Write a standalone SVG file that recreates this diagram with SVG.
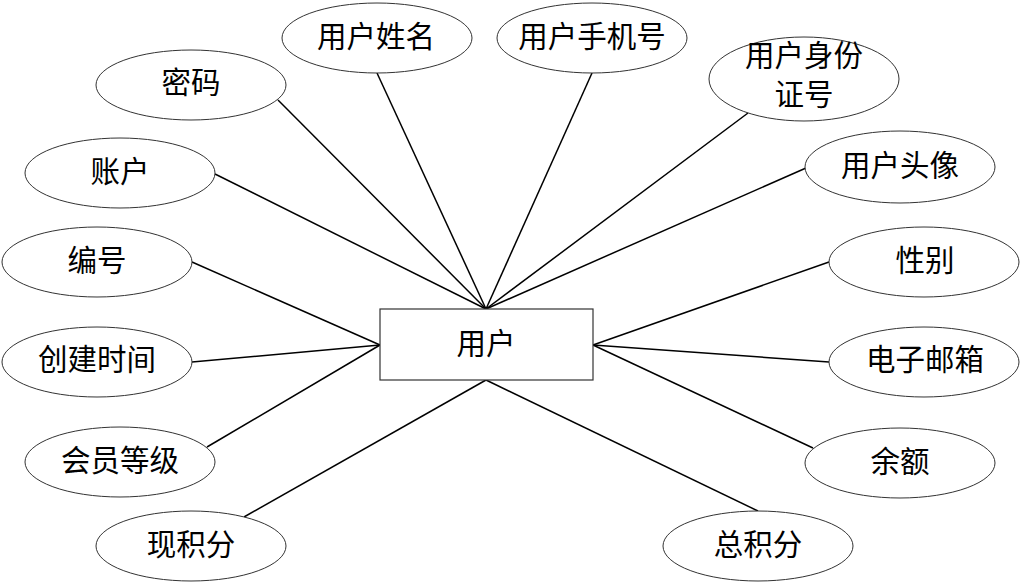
<svg xmlns="http://www.w3.org/2000/svg" width="1020" height="584" viewBox="0 0 1020 584">
<style>
.e{fill:#fff;stroke:#333;stroke-width:1}
.r{fill:#fff;stroke:#333;stroke-width:1.2}
.t{font-family:"Liberation Serif","Noto Sans CJK SC",serif;font-size:29.5px;fill:#000;text-anchor:middle;dominant-baseline:central}
.c line{stroke:#000;stroke-width:1.5}
</style>
<rect width="1020" height="584" fill="#fff"/>
<g class="c" id="connectors">
<line x1="377" y1="73" x2="486" y2="309"/>
<line x1="278" y1="100" x2="486" y2="309"/>
<line x1="215" y1="174" x2="486" y2="309"/>
<line x1="592" y1="73" x2="486" y2="309"/>
<line x1="748" y1="113" x2="486" y2="309"/>
<line x1="806" y1="168" x2="486" y2="309"/>
<line x1="192" y1="262" x2="380" y2="345"/>
<line x1="192" y1="362" x2="380" y2="345"/>
<line x1="207" y1="447" x2="380" y2="345"/>
<line x1="829" y1="262" x2="593" y2="345"/>
<line x1="829" y1="362" x2="593" y2="345"/>
<line x1="813" y1="448" x2="593" y2="345"/>
<line x1="244" y1="517" x2="486" y2="380"/>
<line x1="758" y1="511" x2="486" y2="380"/>
</g>
<g id="user"><rect class="r" x="380" y="309" width="213" height="71"/><text class="t" x="486" y="344">用户</text></g>
<g id="name"><ellipse class="e" cx="377" cy="38" rx="95" ry="35"/><text class="t" x="376" y="37">用户姓名</text></g>
<g id="password"><ellipse class="e" cx="191" cy="85" rx="95" ry="35"/><text class="t" x="191" y="83">密码</text></g>
<g id="account"><ellipse class="e" cx="120" cy="173" rx="95" ry="35"/><text class="t" x="120" y="172">账户</text></g>
<g id="number"><ellipse class="e" cx="97" cy="262" rx="95" ry="35"/><text class="t" x="97" y="261">编号</text></g>
<g id="created"><ellipse class="e" cx="97" cy="362" rx="95" ry="35"/><text class="t" x="97" y="360">创建时间</text></g>
<g id="level"><ellipse class="e" cx="120" cy="462" rx="95" ry="35"/><text class="t" x="120" y="461">会员等级</text></g>
<g id="points"><ellipse class="e" cx="191" cy="546" rx="95" ry="35"/><text class="t" x="191" y="545">现积分</text></g>
<g id="phone"><ellipse class="e" cx="592" cy="38" rx="95" ry="35"/><text class="t" x="592" y="37">用户手机号</text></g>
<g id="idcard"><ellipse class="e" cx="804" cy="79" rx="95" ry="42"/><text class="t" x="804" y="56">用户身份</text><text class="t" x="804" y="95">证号</text></g>
<g id="avatar"><ellipse class="e" cx="900" cy="167" rx="95" ry="36"/><text class="t" x="900" y="166">用户头像</text></g>
<g id="gender"><ellipse class="e" cx="924" cy="262" rx="95" ry="35"/><text class="t" x="925" y="261">性别</text></g>
<g id="email"><ellipse class="e" cx="924" cy="362" rx="95" ry="35"/><text class="t" x="925" y="360">电子邮箱</text></g>
<g id="balance"><ellipse class="e" cx="900" cy="463" rx="95" ry="35"/><text class="t" x="900" y="462">余额</text></g>
<g id="total"><ellipse class="e" cx="758" cy="546" rx="95" ry="35"/><text class="t" x="758" y="545">总积分</text></g>
</svg>
